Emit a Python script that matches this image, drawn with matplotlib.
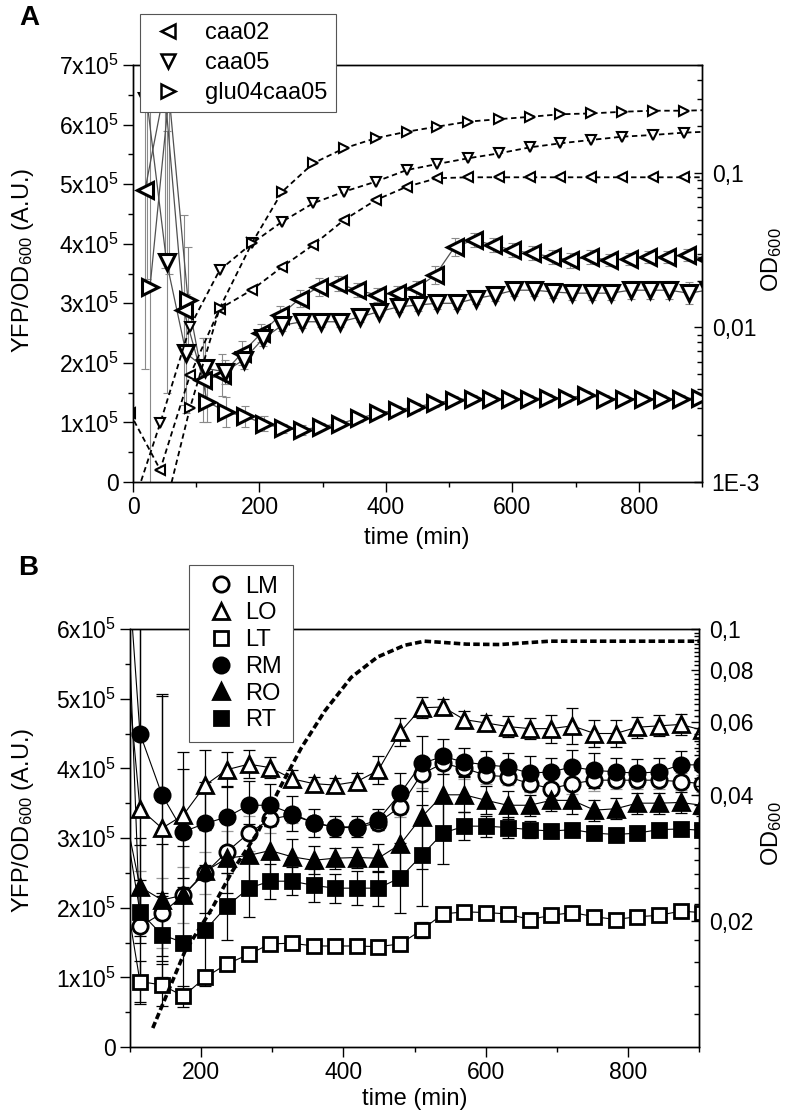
import numpy as np
import matplotlib
matplotlib.use('Agg')
from matplotlib import pyplot as plt
from matplotlib.lines import Line2D
from matplotlib.ticker import FixedLocator, MultipleLocator, NullFormatter, LogLocator

plt.rcParams['font.family'] = ['Liberation Sans', 'DejaVu Sans']
plt.rcParams['mathtext.fontset'] = 'custom'
plt.rcParams['mathtext.rm'] = 'Liberation Sans'
plt.rcParams['mathtext.it'] = 'Liberation Sans:italic'
plt.rcParams['mathtext.bf'] = 'Liberation Sans:bold'
plt.rcParams['axes.linewidth'] = 1.0

# ---------------- panel A data (YFP/OD600 in units of 1e5, time in min) ----------------
caa02_t = [19, 50, 80, 111, 141, 172, 203, 233, 264, 294, 325, 355, 386, 417, 447,
           478, 509, 539, 570, 600, 631, 662, 692, 723, 753, 784, 815, 845, 876, 906]
caa02_yfp = [4.90, 6.6, 2.89, 1.71, 1.80, 2.16, 2.50, 2.80, 3.08, 3.28, 3.33, 3.22, 3.14, 3.17, 3.25,
             3.47, 3.95, 4.06, 3.98, 3.89, 3.84, 3.78, 3.72, 3.78, 3.72, 3.75, 3.78, 3.78, 3.81, 3.75]
caa02_err = [3.0, 3.0, 1.6, 0.7, 0.35, 0.2, 0.15, 0.15, 0.15, 0.15, 0.12, 0.12, 0.12, 0.12, 0.12,
             0.15, 0.15, 0.12, 0.12, 0.12, 0.12, 0.12, 0.12, 0.12, 0.1, 0.1, 0.1, 0.1, 0.1, 0.1]

caa05_t = [22, 53, 84, 114, 145, 175, 206, 236, 267, 298, 328, 359, 389, 420, 450,
           481, 512, 542, 573, 603, 634, 665, 695, 726, 756, 787, 818, 848, 879, 909]
caa05_yfp = [6.4, 3.70, 2.16, 1.91, 1.85, 2.05, 2.41, 2.63, 2.69, 2.69, 2.69, 2.77, 2.86, 2.94, 2.97,
             3.00, 3.00, 3.08, 3.14, 3.22, 3.22, 3.19, 3.17, 3.17, 3.17, 3.22, 3.22, 3.22, 3.17, 3.22]
caa05_err = [3.0, 2.2, 1.0, 0.5, 0.2, 0.15, 0.12, 0.1, 0.1, 0.08, 0.08, 0.08, 0.08, 0.08, 0.1,
             0.1, 0.1, 0.1, 0.1, 0.1, 0.1, 0.1, 0.12, 0.12, 0.12, 0.15, 0.15, 0.15, 0.18, 0.15]

glu_t = [27, 57, 87, 117, 147, 177, 207, 237, 267, 297, 327, 357, 387, 417, 447,
         477, 507, 537, 567, 597, 627, 657, 687, 717, 747, 777, 807, 837, 867, 897]
glu_yfp = [3.28, 6.5, 3.05, 1.35, 1.18, 1.10, 0.98, 0.90, 0.87, 0.93, 0.98, 1.07, 1.15, 1.21, 1.26,
           1.32, 1.38, 1.40, 1.40, 1.40, 1.40, 1.41, 1.41, 1.46, 1.40, 1.40, 1.40, 1.40, 1.40, 1.41]
glu_err = [3.5, 3.0, 0.9, 0.35, 0.25, 0.18, 0.12, 0.08, 0.08, 0.06, 0.06, 0.06, 0.06, 0.06, 0.06,
           0.06, 0.06, 0.06, 0.06, 0.06, 0.06, 0.06, 0.06, 0.06, 0.06, 0.06, 0.06, 0.06, 0.06, 0.06]

# OD600 (right log axis)
od_t = [-5, 43, 90, 137, 188, 236, 285, 334, 384, 433, 481, 530, 579, 628, 676, 725, 774, 822, 871, 920]
caa02_od = [0.0028, 0.0012, 0.0049, 0.0132, 0.0175, 0.0247, 0.0342, 0.0497, 0.0668, 0.0815,
            0.0925, 0.0938, 0.0938, 0.0938, 0.0938, 0.0938, 0.0938, 0.0938, 0.0938, 0.0938]
caa05_od = [0.00061, 0.0024, 0.0101, 0.0235, 0.035, 0.0484, 0.0637, 0.0757, 0.0879, 0.1045,
            0.1143, 0.1245, 0.134, 0.1466, 0.1556, 0.1637, 0.1718, 0.1762, 0.1824, 0.186]
glu_od = [0.0004, 0.0005, 0.003, 0.0133, 0.0351, 0.0757, 0.1156, 0.1445, 0.168, 0.185,
          0.1995, 0.215, 0.223, 0.231, 0.240, 0.243, 0.249, 0.253, 0.253, 0.256]

# ---------------- panel B data ----------------
b_t = [84, 114, 145, 175, 206, 236, 267, 297, 328, 358, 388, 419, 449, 480,
       510, 540, 570, 601, 631, 662, 692, 722, 753, 783, 813, 844, 874, 904]
LM = [10.0, 1.73, 1.92, 2.18, 2.50, 2.80, 3.07, 3.27, 3.33, 3.22, 3.15, 3.15, 3.22, 3.45,
      3.92, 4.07, 4.00, 3.90, 3.88, 3.78, 3.71, 3.78, 3.83, 3.83, 3.83, 3.83, 3.81, 3.78]
LO = [6.8, 3.42, 3.14, 3.33, 3.76, 3.98, 4.06, 4.01, 3.85, 3.78, 3.76, 3.81, 3.97, 4.52,
      4.87, 4.88, 4.70, 4.65, 4.60, 4.57, 4.57, 4.61, 4.50, 4.50, 4.59, 4.61, 4.63, 4.55]
LT = [2.8, 0.94, 0.89, 0.73, 1.00, 1.19, 1.33, 1.48, 1.49, 1.45, 1.45, 1.45, 1.44, 1.48,
      1.68, 1.91, 1.94, 1.93, 1.91, 1.83, 1.89, 1.93, 1.87, 1.83, 1.87, 1.89, 1.95, 1.93]
RM = [8.8, 4.50, 3.62, 3.09, 3.21, 3.30, 3.47, 3.47, 3.35, 3.22, 3.16, 3.16, 3.26, 3.64,
      4.07, 4.17, 4.09, 4.05, 4.02, 3.93, 3.95, 4.02, 3.97, 3.95, 3.93, 3.95, 4.05, 4.05]
RO = [3.8, 2.30, 2.11, 2.18, 2.52, 2.71, 2.75, 2.82, 2.73, 2.68, 2.71, 2.72, 2.71, 2.91,
      3.30, 3.62, 3.62, 3.54, 3.47, 3.47, 3.54, 3.54, 3.40, 3.42, 3.50, 3.50, 3.51, 3.47]
RT = [3.8, 1.94, 1.61, 1.50, 1.68, 2.02, 2.28, 2.38, 2.38, 2.32, 2.28, 2.28, 2.28, 2.43,
      2.75, 3.07, 3.17, 3.17, 3.15, 3.12, 3.10, 3.12, 3.07, 3.05, 3.07, 3.12, 3.13, 3.11]
LM_err = [0, 0.8, 0.5, 0.4, 0.3, 0.3, 0.25, 0.2, 0.12, 0.1, 0.1, 0.1, 0.1, 0.15,
          0.2, 0.15, 0.15, 0.12, 0.12, 0.12, 0.15, 0.15, 0.15, 0.12, 0.12, 0.12, 0.12, 0.12]
LO_err = [0, 2.8, 1.9, 0.9, 0.5, 0.25, 0.2, 0.15, 0.12, 0.1, 0.1, 0.12, 0.2, 0.2,
          0.15, 0.12, 0.12, 0.12, 0.15, 0.15, 0.2, 0.26, 0.2, 0.2, 0.15, 0.15, 0.15, 0.2]
LT_err = [0, 0.3, 0.3, 0.15, 0.1, 0.1, 0.08, 0.06, 0.05, 0.05, 0.05, 0.06, 0.08, 0.1,
          0.12, 0.1, 0.06, 0.05, 0.05, 0.05, 0.05, 0.05, 0.05, 0.05, 0.05, 0.05, 0.05, 0.05]
RM_err = [0, 1.6, 1.45, 0.9, 0.6, 0.45, 0.35, 0.3, 0.25, 0.2, 0.15, 0.15, 0.15, 0.3,
          0.4, 0.25, 0.2, 0.2, 0.2, 0.25, 0.2, 0.25, 0.25, 0.2, 0.2, 0.2, 0.2, 0.2]
RO_err = [0, 0.7, 0.8, 0.7, 0.6, 0.5, 0.45, 0.35, 0.25, 0.2, 0.15, 0.15, 0.2, 0.5,
          0.75, 0.6, 0.25, 0.2, 0.2, 0.15, 0.15, 0.2, 0.15, 0.15, 0.15, 0.15, 0.15, 0.15]
RT_err = [0, 0.45, 0.6, 0.8, 0.8, 0.48, 0.42, 0.25, 0.2, 0.24, 0.21, 0.24, 0.25, 0.5,
          0.73, 0.45, 0.2, 0.15, 0.15, 0.12, 0.1, 0.1, 0.1, 0.1, 0.1, 0.1, 0.1, 0.1]

odB_t = [132, 177, 215, 243, 280, 313, 341, 374, 411, 448, 486, 514, 535, 573, 620, 690, 760, 830, 904]
odB = [0.0111, 0.0169, 0.0214, 0.0262, 0.0327, 0.0424, 0.052, 0.0637, 0.0766, 0.0857,
       0.0914, 0.0935, 0.093, 0.092, 0.0918, 0.0935, 0.0935, 0.0935, 0.0935]

W, H = 793, 1118
fig = plt.figure(figsize=(W / 100, H / 100), dpi=100)
TICK = 16.5
LAB = 17


def left_axis(ax, ymax):
    ax.set_ylim(0, ymax * 1e5)
    ticks = list(range(0, ymax + 1))
    ax.yaxis.set_major_locator(FixedLocator([v * 1e5 for v in ticks]))
    ax.set_yticklabels(['0'] + ['%dx10$^5$' % v for v in ticks[1:]])
    ax.yaxis.set_minor_locator(MultipleLocator(0.5e5))
    ax.xaxis.set_major_locator(MultipleLocator(200))
    ax.xaxis.set_minor_locator(MultipleLocator(100))
    ax.tick_params(which='major', direction='out', length=7, width=1, labelsize=TICK, pad=3)
    ax.tick_params(which='minor', direction='out', length=3.5, width=1)


def right_ticks(axr):
    axr.tick_params(axis='y', which='major', direction='in', length=6, width=1, labelsize=TICK, pad=7)
    axr.tick_params(axis='y', which='minor', direction='in', length=3.5, width=1)


# ======================= panel A =======================
ax1 = fig.add_axes([133 / W, 1 - 482 / H, 569 / W, 417 / H])
ax1.set_xlim(0, 900)
left_axis(ax1, 7)

for t, v, e, m in [(caa02_t, caa02_yfp, caa02_err, '<'),
                   (caa05_t, caa05_yfp, caa05_err, 'v'),
                   (glu_t, glu_yfp, glu_err, '>')]:
    v = np.array(v) * 1e5
    ax1.errorbar(t, v, yerr=np.array(e) * 1e5, fmt='none', ecolor='#8a8a8a',
                 elinewidth=0.8, capsize=3, capthick=0.8, zorder=1)
    ax1.plot(t, v, color='#505050', lw=0.9, zorder=2)
    ax1.plot(t, v, ls='none', marker=m, ms=11, mfc='white', mec='black', mew=2.2, zorder=3)

ax1r = ax1.twinx()
ax1r.set_yscale('log')
ax1r.set_ylim(1e-3, 0.5)
ax1r.set_xlim(0, 900)
for v, m in [(caa02_od, '<'), (caa05_od, 'v'), (glu_od, '>')]:
    ax1r.plot(od_t, v, color='black', lw=1.3, ls=(0, (3, 2)), marker=m, ms=7.5,
              mfc='white', mec='black', mew=1.5)
ax1r.yaxis.set_major_locator(FixedLocator([1e-3, 1e-2, 1e-1]))
ax1r.set_yticklabels(['1E-3', '0,01', '0,1'])
ax1r.yaxis.set_minor_locator(LogLocator(base=10, subs=np.arange(2, 10)))
ax1r.yaxis.set_minor_formatter(NullFormatter())
right_ticks(ax1r)

legA = [Line2D([], [], ls='none', marker=m, ms=9.5, mfc='white', mec='black', mew=1.8)
        for m in ['<', 'v', '>']]
lg = ax1r.legend(legA, ['caa02', 'caa05', 'glu04caa05'], loc='upper left',
                 bbox_to_anchor=(140 / W, 1 - 14 / H), bbox_transform=fig.transFigure,
                 fancybox=False, edgecolor='#555555', framealpha=1, fontsize=LAB,
                 handlelength=1.7, handletextpad=0.72, labelspacing=0.33, borderpad=0.35,
                 borderaxespad=0)
lg.get_frame().set_linewidth(0.8)

fig.text(19 / W, 1 - 5 / H, 'A', fontsize=20, fontweight='bold', va='top', ha='left')
fig.text(23 / W, 1 - 260 / H, 'YFP/OD$_{600}$ (A.U.)', rotation=90, fontsize=LAB, ha='center', va='center')
fig.text(772 / W, 1 - 260 / H, 'OD$_{600}$', rotation=90, fontsize=LAB, ha='center', va='center')
fig.text(417 / W, 1 - 538 / H, 'time (min)', fontsize=LAB, ha='center', va='center')

# ======================= panel B =======================
ax2 = fig.add_axes([130 / W, 1 - 1047 / H, 569 / W, 418 / H])
ax2.set_xlim(100, 900)
left_axis(ax2, 6)

seriesB = [(LM, LM_err, 'o', 'white', '#9a9a9a', 11),
           (LO, LO_err, '^', 'white', 'black', 12),
           (LT, LT_err, 's', 'white', 'black', 9.5),
           (RM, RM_err, 'o', 'black', 'black', 11),
           (RO, RO_err, '^', 'black', 'black', 12),
           (RT, RT_err, 's', 'black', 'black', 9.5)]
for v, e, m, fc, ec, ms in seriesB:
    v = np.array(v) * 1e5
    ax2.errorbar(b_t, v, yerr=np.array(e) * 1e5, fmt='none', ecolor=ec,
                 elinewidth=0.9, capsize=4, capthick=0.9, zorder=1)
    ax2.plot(b_t, v, color='black', lw=0.8, zorder=2)
for v, e, m, fc, ec, ms in seriesB:
    ax2.plot(b_t, np.array(v) * 1e5, ls='none', marker=m, ms=ms, mfc=fc, mec='black',
             mew=2.0, zorder=3)

ax2r = ax2.twinx()
ax2r.set_yscale('log')
ax2r.set_ylim(0.01, 0.1)
ax2r.set_xlim(100, 900)
ax2r.plot(odB_t, odB, color='black', lw=2.6, ls=(0, (1.8, 0.9)))
ax2r.yaxis.set_major_locator(FixedLocator([0.02, 0.04, 0.06, 0.08, 0.1]))
ax2r.set_yticklabels(['0,02', '0,04', '0,06', '0,08', '0,1'])
minors = [x for x in np.arange(0.012, 0.0999, 0.002) if round(x * 100, 3) % 2 != 0]
ax2r.yaxis.set_minor_locator(FixedLocator(minors))
ax2r.yaxis.set_minor_formatter(NullFormatter())
right_ticks(ax2r)

legB = [Line2D([], [], ls='none', marker=m, ms=ms, mfc=fc, mec='black', mew=2.0)
        for v, e, m, fc, ec, ms in seriesB]
lg2 = ax2r.legend(legB, ['LM', 'LO', 'LT', 'RM', 'RO', 'RT'], loc='upper left',
                  bbox_to_anchor=(189 / W, 1 - 565 / H), bbox_transform=fig.transFigure,
                  fancybox=False, edgecolor='#555555', framealpha=1, fontsize=LAB,
                  handlelength=1.83, handletextpad=0.1, labelspacing=0.2, borderpad=0.45,
                  borderaxespad=0)
lg2.get_frame().set_linewidth(0.8)

fig.text(18 / W, 1 - 555 / H, 'B', fontsize=20, fontweight='bold', va='top', ha='left')
fig.text(23 / W, 1 - 820 / H, 'YFP/OD$_{600}$ (A.U.)', rotation=90, fontsize=LAB, ha='center', va='center')
fig.text(772 / W, 1 - 834 / H, 'OD$_{600}$', rotation=90, fontsize=LAB, ha='center', va='center')
fig.text(415 / W, 1 - 1099 / H, 'time (min)', fontsize=LAB, ha='center', va='center')

fig.savefig('out.png', dpi=100)
